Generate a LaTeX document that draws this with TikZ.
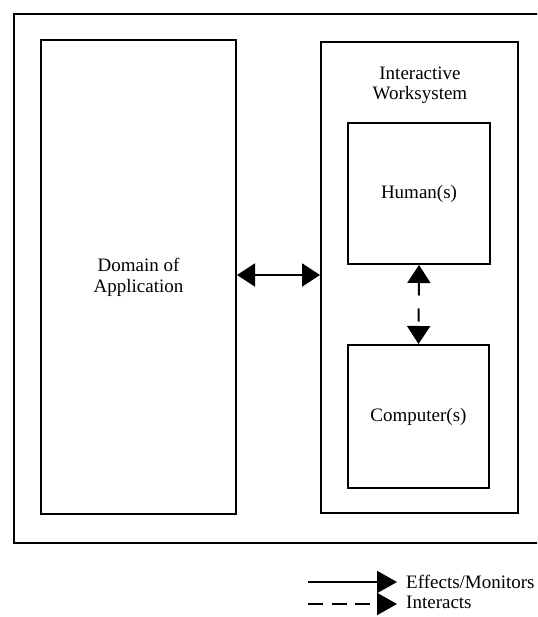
\documentclass[tikz,border=0pt]{standalone}
\usepackage{fontspec}
\setmainfont{Liberation Serif}
\usetikzlibrary{arrows.meta}
\begin{document}
\begin{tikzpicture}[x=1pt,y=-1pt,
  box/.style={draw,line width=2pt,inner sep=0pt,align=center,
    font=\fontsize{19}{21}\selectfont},
  lbl/.style={inner sep=0pt,align=center,font=\fontsize{19}{20}\selectfont},
  bigtip/.style={-{Triangle[length=18pt,width=23pt]}},
  bothtip/.style={{Triangle[length=18pt,width=23pt]}-{Triangle[length=18pt,width=23pt]}},
  legtip/.style={-{Triangle[length=20pt,width=22pt]}},
  conn/.style={line width=2pt},
  dash13/.style={dash pattern=on 13pt off 13pt},
  legdash/.style={dash pattern=on 15pt off 8.5pt}]
\useasboundingbox (0,0) rectangle (537,617);
\clip (0,0) rectangle (537,617);
\fill[white] (0,0) rectangle (537,617);
% outer frame (extends past right edge)
\draw[line width=2pt] (560,14) -- (14,14) -- (14,543) -- (560,543);
% boxes
\node[box,minimum width=195pt,minimum height=474pt] (dom) at (138.5,277) {Domain of\\Application};
\node[box,minimum width=197pt,minimum height=471pt] (iws) at (419.5,277.5) {};
\node[lbl] (iwslbl) at (420,85) {Interactive\\Worksystem};
\node[box,minimum width=142pt,minimum height=141pt] (hum) at (419,193.5) {Human(s)};
\node[box,minimum width=141pt,minimum height=143pt] (comp) at (418.5,416.5) {Computer(s)};
% connectors
\draw[conn,bothtip] (dom.east |- 0,275) -- (iws.west |- 0,275);
\draw[conn,bothtip,dash13] (hum.south) -- (comp.north);
% legend
\coordinate (l1s) at (308,582);
\coordinate (l1e) at (397,582);
\coordinate (l2s) at (308,604);
\coordinate (l2e) at (397,604);
\draw[conn,legtip] (l1s) -- (l1e);
\draw[conn,legtip,legdash] (l2s) -- (l2e);
\node[anchor=base west,inner sep=0pt,font=\fontsize{19}{21}\selectfont] (t1) at (406,588) {Effects/Monitors};
\node[anchor=base west,inner sep=0pt,font=\fontsize{19}{21}\selectfont] (t2) at (406,608) {Interacts};
\end{tikzpicture}
\end{document}
